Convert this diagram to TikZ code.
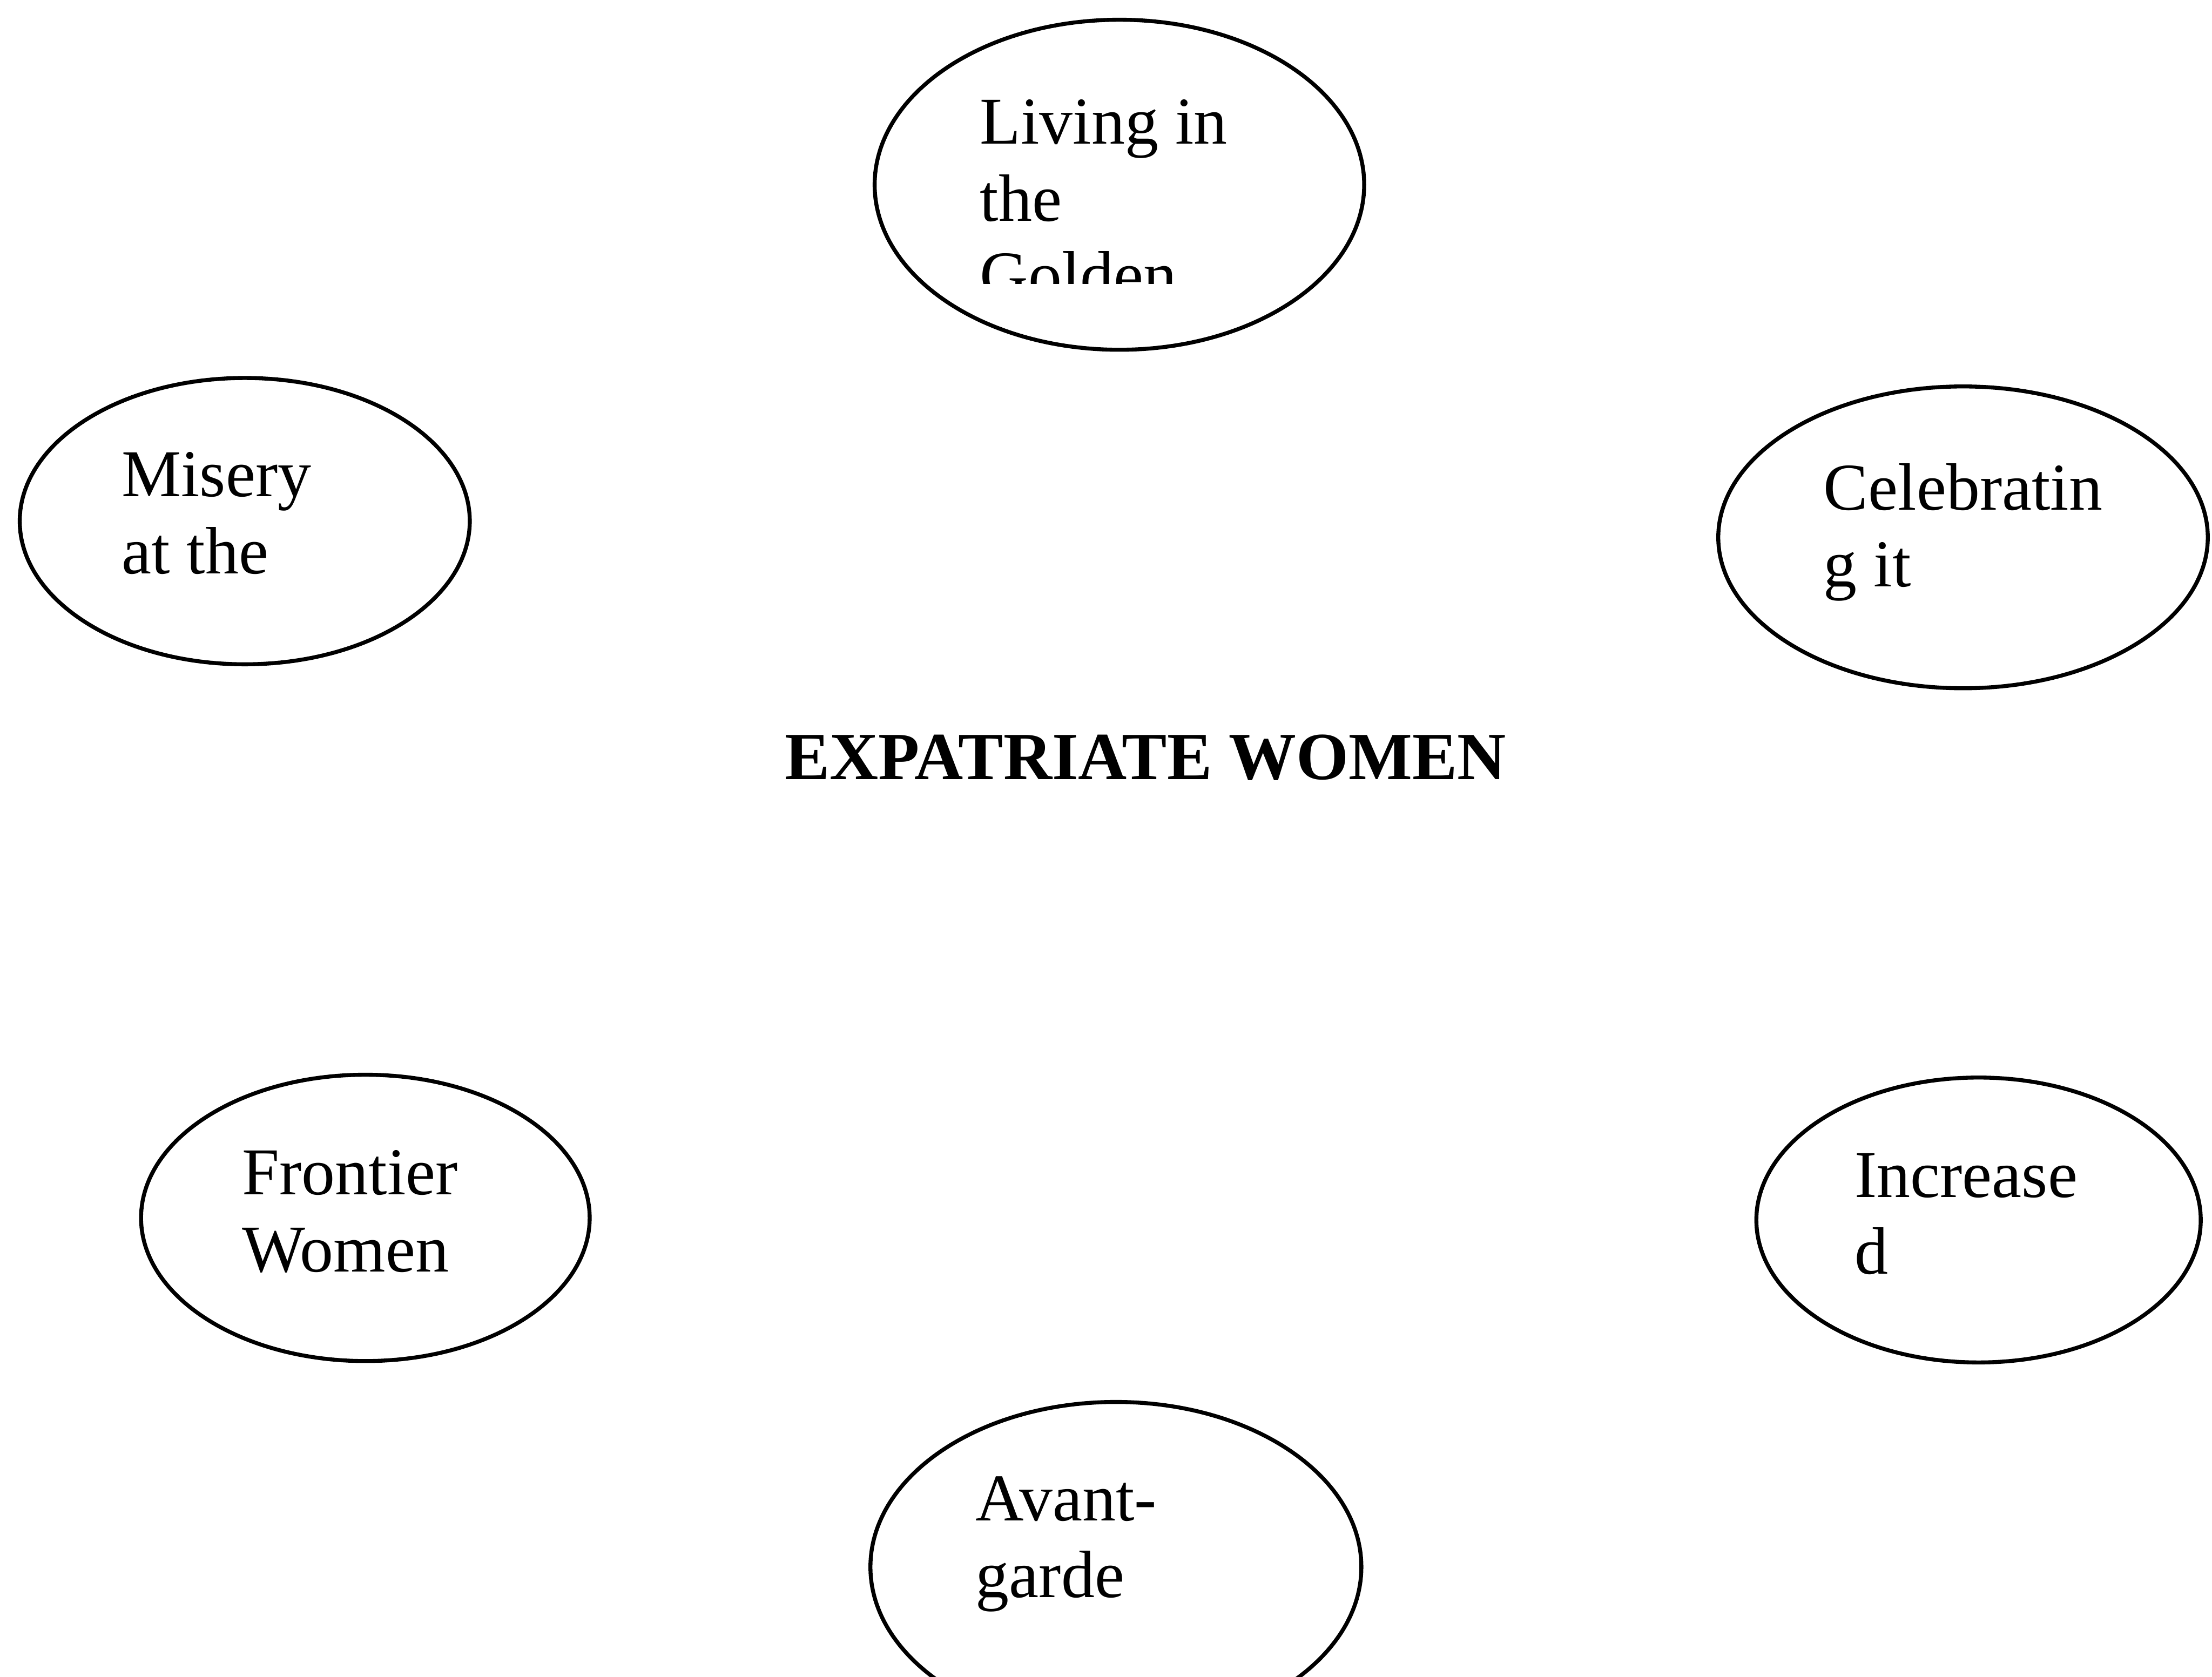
\documentclass[tikz,border=0pt]{standalone}
\usepackage{fontspec}
\setmainfont{Liberation Serif}
\usepackage{tikz}
\usetikzlibrary{shapes.geometric, positioning}

\begin{document}
\begin{tikzpicture}[
    oval/.style={draw, ellipse, line width=0.8pt, inner sep=0pt},
    ovaltext/.style={anchor=north west, inner sep=0pt, align=left, font=\fontsize{13.5}{15.5}\selectfont},
    title/.style={inner sep=0pt, font=\fontsize{13.6}{15.5}\selectfont\bfseries}
]
    \useasboundingbox (0,0) rectangle (15.68,11.89);

    \node[oval, minimum width=3.47cm, minimum height=2.34cm] (golden) at (7.935,10.58) {};
    \node[oval, minimum width=3.19cm, minimum height=2.03cm] (misery) at (1.735,8.195) {};
    \node[oval, minimum width=3.47cm, minimum height=2.14cm] (celebrating) at (13.915,8.08) {};
    \node[oval, minimum width=3.18cm, minimum height=2.03cm] (frontier) at (2.59,3.255) {};
    \node[oval, minimum width=3.15cm, minimum height=2.02cm] (increased) at (14.025,3.24) {};
    \node[oval, minimum width=3.48cm, minimum height=2.34cm] (avantgarde) at (7.91,0.78) {};

    \begin{scope}
        \clip (6,9.88) rectangle (9.6,11.89);
        \node[ovaltext] (goldentext) at (6.94,11.19) {Living in\\the\\Golden};
    \end{scope}
    \node[ovaltext] (miserytext) at (0.855,8.69) {Misery\\at the};
    \node[ovaltext] (celebratingtext) at (12.92,8.61) {Celebratin\\g it};
    \node[ovaltext] (frontiertext) at (1.71,3.74) {Frontier\\Women};
    \node[ovaltext] (increasedtext) at (13.14,3.72) {Increase\\d};
    \node[ovaltext] (avantgardetext) at (6.91,1.43) {Avant-\\garde};

    \node[title] (expat) at (8.12,6.52) {EXPATRIATE WOMEN};
\end{tikzpicture}
\end{document}
